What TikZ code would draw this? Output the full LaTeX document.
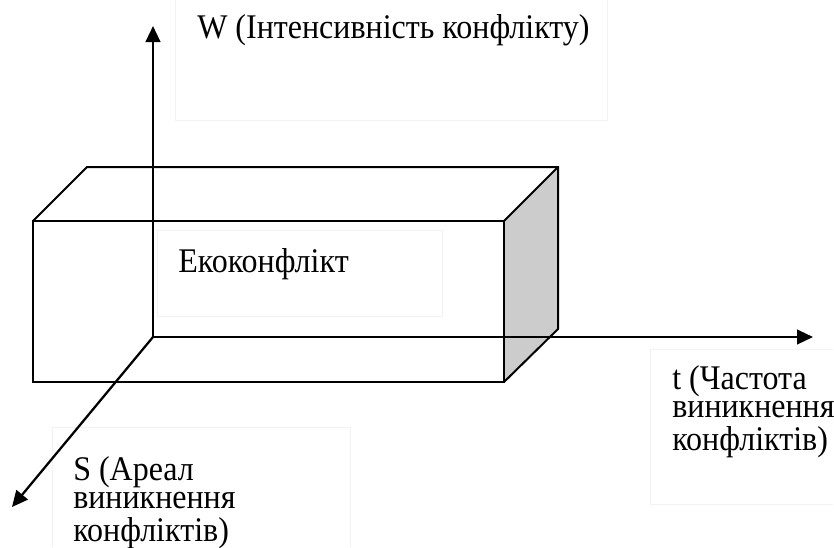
\documentclass[tikz,border=0pt]{standalone}
\usepackage{fontspec}
\usepackage{graphicx}
\setmainfont{Liberation Serif}
\usetikzlibrary{arrows.meta}
\newcommand\tallstretch[1]{\scalebox{1}[1.08]{#1}}
\begin{document}
\begin{tikzpicture}[x=0.75pt,y=-0.75pt,
  txtframe/.style={draw=black!5,line width=0.75pt},
  boxedge/.style={line width=1.5pt,line join=miter},
  axisline/.style={line width=1.7pt,-{Triangle[length=12pt,width=11pt]}},
  lbl/.style={anchor=base west,inner sep=0pt,font=\fontsize{24}{20}\selectfont}]
\useasboundingbox (0,0) rectangle (834,547);
% faint text frames
\draw[txtframe] (175,0) -- (175,120) -- (607,120) -- (607,0);
\draw[txtframe] (157,230) rectangle (442,316);
\draw[txtframe] (833,349) -- (650,349) -- (650,504) -- (833,504);
\draw[txtframe] (52,547) -- (52,427) -- (350,427) -- (350,547);
% box corners
\coordinate (FTL) at (33,221);
\coordinate (FTR) at (504,221);
\coordinate (FBR) at (504,382);
\coordinate (FBL) at (33,382);
\coordinate (BTL) at (87,167);
\coordinate (BTR) at (558,167);
\coordinate (BBR) at (558,329);
% shaded side face
\fill[black!20] (FTR) -- (BTR) -- (BBR) -- (FBR) -- cycle;
% box edges
\draw[boxedge] (FTL) -- (FTR) -- (FBR) -- (FBL) -- cycle;
\draw[boxedge] (FTL) -- (BTL) -- (BTR) -- (BBR) -- (FBR);
\draw[boxedge] (FTR) -- (BTR);
% axes
\coordinate (O) at (153,337);
\coordinate (Wtip) at (153,26);
\coordinate (Ttip) at (813,337);
\coordinate (Stip) at (12,507);
\draw[axisline] (O) -- (Wtip);
\draw[axisline] (O) -- (Ttip);
\draw[axisline] (O) -- (Stip);
% labels
\node[lbl] (wl) at (197,38) {\tallstretch{W (Інтенсивність конфлікту)}};
\node[lbl] (ek) at (178,272) {\tallstretch{Екоконфлікт}};
\node[lbl] (tl) at (672,389) {\tallstretch{\begin{tabular}[t]{@{}l@{}}t (Частота\\виникнення\\конфліктів)\end{tabular}}};
\node[lbl] (sl) at (73,480) {\tallstretch{\begin{tabular}[t]{@{}l@{}}S (Ареал\\виникнення\\конфліктів)\end{tabular}}};
\end{tikzpicture}
\end{document}
